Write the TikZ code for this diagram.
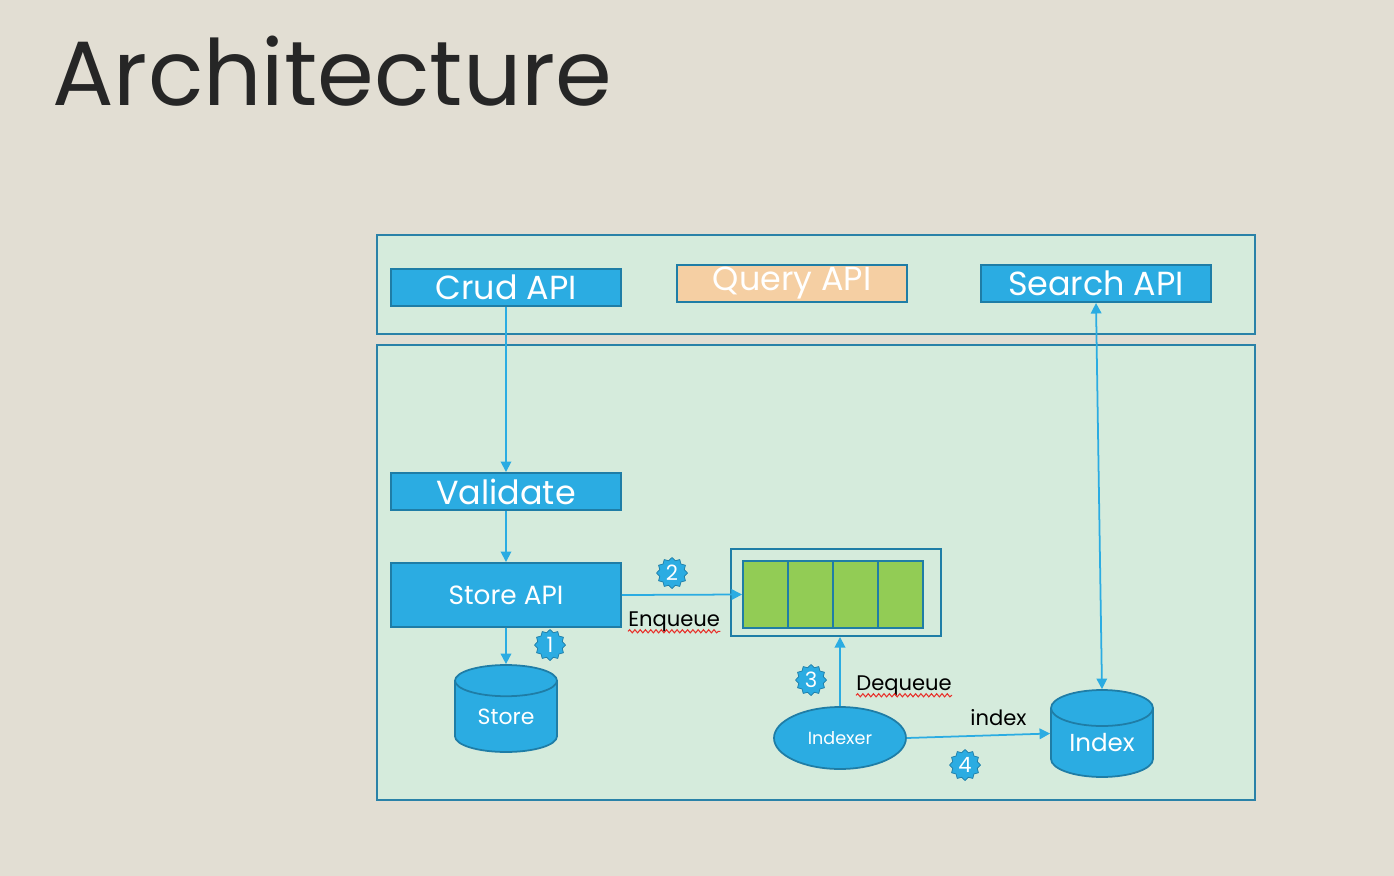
\documentclass[tikz,border=0pt]{standalone}
\usepackage{fontspec}
\setmainfont{Poppins}
\usetikzlibrary{arrows.meta,shapes.geometric,decorations.pathmorphing}
\definecolor{slidebg}{HTML}{E2DED3}
\definecolor{panelfill}{HTML}{D5EBDC}
\definecolor{panelline}{HTML}{2A82A8}
\definecolor{apiblue}{HTML}{2BACE2}
\definecolor{apiline}{HTML}{1F7DA6}
\definecolor{apiorange}{HTML}{F5CFA3}
\definecolor{qgreen}{HTML}{92CC55}
\definecolor{squiggle}{HTML}{E8302A}
\newcommand{\fs}[1]{\fontsize{#1}{#1}\selectfont}
\tikzset{
  panel/.style={draw=panelline, fill=panelfill, line width=1.1pt},
  apibox/.style={draw=apiline, fill=apiblue, line width=1.1pt, text=white,
    inner sep=0pt, minimum width=4.6cm, minimum height=0.74cm, font=\fs{19}},
  db/.style={cylinder, shape border rotate=90, aspect=0.55, draw=apiline,
    fill=apiblue, line width=1pt, text=white, inner sep=0pt,
    minimum width=2.04cm, minimum height=1.74cm, anchor=shape center},
  cell/.style={draw=apiline, fill=qgreen, line width=1.1pt, inner sep=0pt,
    minimum width=0.9cm, minimum height=1.34cm},
  badge/.style={star, star points=12, star point ratio=1.22, draw=apiline,
    fill=apiblue, text=white, inner sep=0pt, minimum size=0.62cm, font=\fs{12}},
  flow/.style={draw=apiblue, line width=1pt, -{Triangle[length=6pt,width=6pt]}},
  note/.style={text=black, inner sep=0pt, font=\fs{12}},
  spell/.style={draw=squiggle, line width=0.6pt, decorate,
    decoration={snake, amplitude=0.9pt, segment length=3pt}},
}
\begin{document}
\begin{tikzpicture}[x=0.02cm, y=-0.02cm]
  \fill[slidebg] (0,0) rectangle (1394,876);
  \useasboundingbox (0,0) rectangle (1394,876);
  \node[anchor=base west, inner sep=0pt, text=black!85, font=\fs{52}] (title) at (52,105) {Architecture};

  % panels
  \draw[panel] (377,235) rectangle (1255,334);
  \draw[panel] (377,345) rectangle (1255,800);

  % api layer
  \node[apibox] (crud) at (506,287.5) {Crud API};
  \node[apibox, fill=apiorange] (query) at (792,283.5) {Query API};
  \node[apibox] (search) at (1096,283.5) {Search API};

  % write path
  \node[apibox] (validate) at (506,491.5) {Validate};
  \node[apibox, minimum height=1.28cm, font=\fs{15}] (storeapi) at (506,595) {Store API};
  \node[db, font=\fs{12.5}] (store) at (506,708.5) {Store};

  % queue
  \node[draw=apiline, line width=1.1pt, inner sep=0pt, minimum width=4.2cm, minimum height=1.74cm] (queue) at (836,592.5) {};
  \foreach \i/\x in {1/765.5, 2/810.5, 3/855.5, 4/900.5}
    \node[cell] (c\i) at (\x,594.5) {};

  % index path
  \node[ellipse, draw=apiline, fill=apiblue, line width=1pt, text=white, inner sep=0pt,
    minimum width=2.64cm, minimum height=1.24cm, font=\fs{10}] (indexer) at (840,738) {Indexer};
  \node[db, font=\fs{14}] (index) at (1102,733.5) {Index};

  % connectors
  \draw[flow] (crud) -- (validate);
  \draw[flow] (validate) -- (storeapi);
  \draw[flow] (storeapi) -- (store);
  \draw[flow] (storeapi.east) -- (c1.west);
  \draw[flow] (indexer.north) -- (indexer.north |- queue.south);
  \draw[flow] (indexer.east) -- (index.west |- index.shape center);
  \draw[flow, {Triangle[length=6pt,width=6pt]}-{Triangle[length=6pt,width=6pt]}] (search.south) -- (index.north);

  % labels
  \node[note, anchor=base west] (enq) at (628,626) {Enqueue};
  \node[note, anchor=base west] (deq) at (856,690) {Dequeue};
  \node[note, anchor=base west] (idx) at (970,725) {index};
  \draw[spell] ([yshift=-3pt]enq.base west) -- ([yshift=-3pt]enq.base east);
  \draw[spell] ([yshift=-3pt]deq.base west) -- ([yshift=-3pt]deq.base east);

  % steps
  \node[badge] (b1) at (550,645) {1};
  \node[badge] (b2) at (672,573) {2};
  \node[badge] (b3) at (811,680) {3};
  \node[badge] (b4) at (965,765) {4};
\end{tikzpicture}
\end{document}
